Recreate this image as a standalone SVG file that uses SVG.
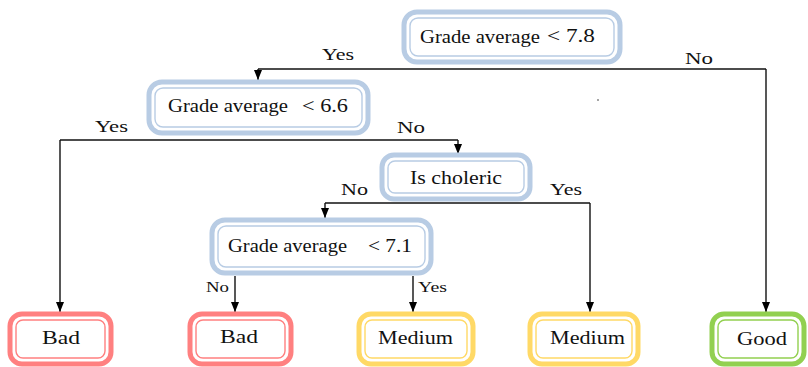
<svg xmlns="http://www.w3.org/2000/svg" width="808" height="367" viewBox="0 0 808 367">
<style>
text{font-family:"Liberation Serif","Times New Roman",serif;fill:#111}
.n{font-size:18px}
.l{font-size:17px}
.s{font-size:14px}
.o{fill:#fff;stroke-width:5}
.i{fill:none;stroke-width:1.4}
.blue{stroke:#b8cce4}
.red{stroke:#ff8080}
.yel{stroke:#ffd966}
.grn{stroke:#92d050}
.c{fill:none;stroke:#111;stroke-width:1.4}
</style>
<defs>
<marker id="a" markerUnits="userSpaceOnUse" markerWidth="10" markerHeight="10" viewBox="0 0 10 10" refX="10" refY="5" orient="auto">
<path d="M0,1 L10,5 L0,9 Z" fill="#000"/>
</marker>
</defs>
<g id="connectors">
<path class="c" d="M258,69 H766"/>
<path class="c" d="M258,69 V80" marker-end="url(#a)"/>
<path class="c" d="M766,69 V312" marker-end="url(#a)"/>
<path class="c" d="M60,140 H458"/>
<path class="c" d="M60,140 V312" marker-end="url(#a)"/>
<path class="c" d="M458,140 V154" marker-end="url(#a)"/>
<path class="c" d="M325,203 H590"/>
<path class="c" d="M325,203 V218" marker-end="url(#a)"/>
<path class="c" d="M590,203 V312" marker-end="url(#a)"/>
<path class="c" d="M235,276 V312" marker-end="url(#a)"/>
<path class="c" d="M413,276 V312" marker-end="url(#a)"/>
<text class="l" x="322" y="60" textLength="32" lengthAdjust="spacingAndGlyphs">Yes</text>
<text class="l" x="685" y="64" textLength="28" lengthAdjust="spacingAndGlyphs">No</text>
<text class="l" x="95" y="132" textLength="33" lengthAdjust="spacingAndGlyphs">Yes</text>
<text class="l" x="397" y="133" textLength="28" lengthAdjust="spacingAndGlyphs">No</text>
<text class="l" x="341" y="195" textLength="27" lengthAdjust="spacingAndGlyphs">No</text>
<text class="l" x="550" y="195" textLength="32" lengthAdjust="spacingAndGlyphs">Yes</text>
<text class="s" x="206" y="292" textLength="23" lengthAdjust="spacingAndGlyphs">No</text>
<text class="s" x="418" y="292" textLength="29" lengthAdjust="spacingAndGlyphs">Yes</text>
<circle cx="598" cy="100" r="0.8" fill="#333"/>
</g>
<g id="n1">
<rect class="o blue" x="404" y="12" width="216" height="50" rx="13"/>
<rect class="i blue" x="410" y="18" width="204" height="38" rx="8"/>
<text class="n" x="420" y="43" textLength="120" lengthAdjust="spacingAndGlyphs">Grade average</text>
<text class="n" x="547" y="42" textLength="48" lengthAdjust="spacingAndGlyphs">&lt; 7.8</text>
</g>
<g id="n2">
<rect class="o blue" x="149" y="82" width="219" height="51" rx="13"/>
<rect class="i blue" x="155" y="88" width="207" height="39" rx="8"/>
<text class="n" x="168" y="112" textLength="120" lengthAdjust="spacingAndGlyphs">Grade average</text>
<text class="n" x="302" y="112" textLength="46" lengthAdjust="spacingAndGlyphs">&lt; 6.6</text>
</g>
<g id="n3">
<rect class="o blue" x="382" y="155" width="148" height="44" rx="12"/>
<rect class="i blue" x="388" y="161" width="136" height="32" rx="7"/>
<text class="n" x="410" y="184" textLength="92" lengthAdjust="spacingAndGlyphs">Is choleric</text>
</g>
<g id="n4">
<rect class="o blue" x="212" y="220" width="219" height="53" rx="13"/>
<rect class="i blue" x="218" y="226" width="207" height="41" rx="8"/>
<text class="n" x="228" y="252" textLength="119" lengthAdjust="spacingAndGlyphs">Grade average</text>
<text class="n" x="368" y="252" textLength="44" lengthAdjust="spacingAndGlyphs">&lt; 7.1</text>
</g>
<g id="bad1">
<rect class="o red" x="10" y="314" width="101" height="50" rx="12"/>
<rect class="i red" x="16" y="320" width="89" height="38" rx="7"/>
<text class="n" x="42" y="344" textLength="38" lengthAdjust="spacingAndGlyphs">Bad</text>
</g>
<g id="bad2">
<rect class="o red" x="190" y="314" width="101" height="50" rx="12"/>
<rect class="i red" x="196" y="320" width="89" height="38" rx="7"/>
<text class="n" x="220" y="343" textLength="38" lengthAdjust="spacingAndGlyphs">Bad</text>
</g>
<g id="medium1">
<rect class="o yel" x="359" y="314" width="114" height="50" rx="12"/>
<rect class="i yel" x="365" y="320" width="102" height="38" rx="7"/>
<text class="n" x="378" y="344" textLength="75" lengthAdjust="spacingAndGlyphs">Medium</text>
</g>
<g id="medium2">
<rect class="o yel" x="530" y="314" width="108" height="50" rx="12"/>
<rect class="i yel" x="536" y="320" width="96" height="38" rx="7"/>
<text class="n" x="550" y="344" textLength="75" lengthAdjust="spacingAndGlyphs">Medium</text>
</g>
<g id="good">
<rect class="o grn" x="712" y="314" width="92" height="50" rx="12"/>
<rect class="i grn" x="718" y="320" width="80" height="38" rx="7"/>
<text class="n" x="737" y="345" textLength="50" lengthAdjust="spacingAndGlyphs">Good</text>
</g>
</svg>
